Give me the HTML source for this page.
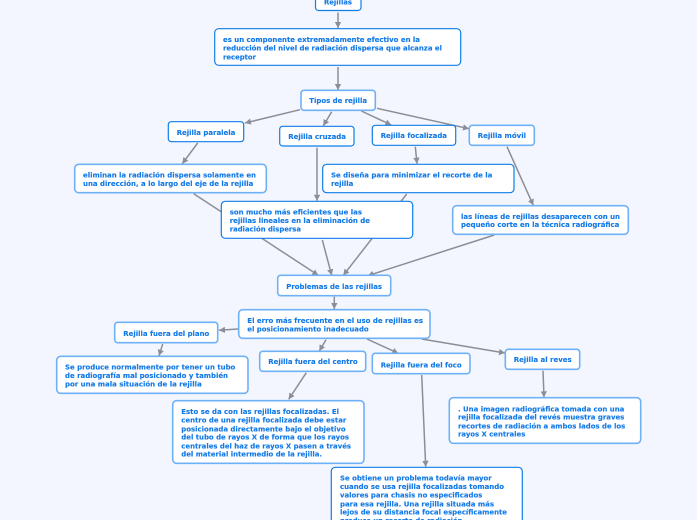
<!DOCTYPE html>
<html>
<head>
<meta charset="utf-8">
<style>
html,body{margin:0;padding:0;background:#f3f6ff;width:697px;height:520px;overflow:hidden}
svg{display:block;filter:blur(0.25px)}
text{font-family:"DejaVu Sans",sans-serif;font-weight:bold;font-size:7.4px;fill:#1279e6;stroke:#1279e6;stroke-width:0.12}
.c line{stroke:#8d8d95;stroke-width:1.5;marker-end:url(#a)}
rect{fill:#fff;stroke:#0f7ee8;stroke-width:1.2}
rect.l{stroke:#6fb1f6;stroke-width:1.6}
</style>
</head>
<body>
<svg width="697" height="520" viewBox="0 0 697 520" xmlns="http://www.w3.org/2000/svg">
<defs>
<marker id="a" markerUnits="userSpaceOnUse" markerWidth="8" markerHeight="8" refX="6" refY="3.2" orient="auto">
<path d="M0,0 L6,3.2 L0,6.4 Z" fill="#8d8d95"/>
</marker>
</defs>
<rect width="697" height="520" style="fill:#f3f6ff;stroke:none"/>
<g class="c">
<line x1="338" y1="12.5" x2="338" y2="28"/>
<line x1="338" y1="67" x2="338" y2="90"/>
<line x1="300" y1="109.7" x2="245" y2="123"/>
<line x1="331.7" y1="111.7" x2="323.3" y2="125.7"/>
<line x1="361.3" y1="111" x2="391.3" y2="125"/>
<line x1="377" y1="108.3" x2="469" y2="128.7"/>
<line x1="197.7" y1="143" x2="182.3" y2="163.7"/>
<line x1="317" y1="147.7" x2="317" y2="200.7"/>
<line x1="415.3" y1="146.7" x2="417" y2="163.7"/>
<line x1="507" y1="146.7" x2="533.3" y2="205.3"/>
<line x1="193.7" y1="193.7" x2="318.3" y2="275.3"/>
<line x1="322.3" y1="240" x2="331.7" y2="275.3"/>
<line x1="406.7" y1="194" x2="343.3" y2="275.3"/>
<line x1="494.3" y1="235" x2="367.7" y2="275.7"/>
<line x1="334.3" y1="296.7" x2="334.3" y2="309"/>
<line x1="238" y1="329" x2="219" y2="330.3"/>
<line x1="162.7" y1="344" x2="159" y2="355.7"/>
<line x1="326" y1="339.7" x2="319.3" y2="351"/>
<line x1="367" y1="339" x2="398.3" y2="353.3"/>
<line x1="421.7" y1="339" x2="505" y2="353"/>
<line x1="543" y1="370.7" x2="544" y2="397.3"/>
<line x1="306.3" y1="372.7" x2="288.7" y2="399.3"/>
<line x1="421.7" y1="375" x2="425.7" y2="466.7"/>
</g>

<rect x="315.5" y="-10" width="45.5" height="20.5" rx="3"/>
<rect x="214.7" y="28.7" width="246" height="36.6" rx="4"/>
<rect class="l" x="301" y="90.3" width="74.3" height="20" rx="3"/>
<rect x="168.3" y="121.7" width="75.4" height="20" rx="3"/>
<rect x="279.7" y="126.3" width="74.3" height="19.7" rx="3"/>
<rect x="372.3" y="125.3" width="83.4" height="20" rx="3"/>
<rect class="l" x="469.3" y="125.3" width="65" height="20" rx="3"/>
<rect class="l" x="74.7" y="164.3" width="191.6" height="28.4" rx="4"/>
<rect x="221.3" y="201.3" width="191.4" height="37" rx="4"/>
<rect x="322.7" y="164.3" width="191.3" height="28.4" rx="4"/>
<rect class="l" x="452.7" y="205.7" width="175.6" height="28.6" rx="4"/>
<rect class="l" x="277.7" y="275.3" width="113" height="20.4" rx="3"/>
<rect class="l" x="238.7" y="309.7" width="191.3" height="28.6" rx="4"/>
<rect class="l" x="114.7" y="322.3" width="103" height="20.4" rx="3"/>
<rect class="l" x="56.7" y="356.3" width="191.3" height="37" rx="4"/>
<rect class="l" x="259.7" y="351.3" width="106" height="20" rx="3"/>
<rect class="l" x="372.3" y="353.3" width="97.7" height="20.4" rx="3"/>
<rect class="l" x="505.3" y="349.3" width="74.4" height="20" rx="3"/>
<rect class="l" x="449.3" y="397.7" width="191.4" height="45.6" rx="4"/>
<rect class="l" x="172.7" y="400.7" width="191.3" height="62.6" rx="4"/>
<rect x="331.3" y="467.3" width="191" height="72" rx="4"/>

<text x="324" y="4.5" textLength="28" lengthAdjust="spacingAndGlyphs">Rejillas</text>

<text x="223" y="42" textLength="197" lengthAdjust="spacingAndGlyphs">es un componente extremadamente efectivo en la</text>
<text x="223" y="50.5" textLength="219" lengthAdjust="spacingAndGlyphs">reducción del nivel de radiación dispersa que alcanza el</text>
<text x="223" y="59.5" textLength="33" lengthAdjust="spacingAndGlyphs">receptor</text>

<text x="309.3" y="103" textLength="57.7" lengthAdjust="spacingAndGlyphs">Tipos de rejilla</text>
<text x="176.7" y="135" textLength="58.6" lengthAdjust="spacingAndGlyphs">Rejilla paralela</text>
<text x="288.3" y="139" textLength="57.7" lengthAdjust="spacingAndGlyphs">Rejilla cruzada</text>
<text x="380.7" y="138" textLength="66.3" lengthAdjust="spacingAndGlyphs">Rejilla focalizada</text>
<text x="477.7" y="138" textLength="48.3" lengthAdjust="spacingAndGlyphs">Rejilla móvil</text>

<text x="83" y="177.3" textLength="173" lengthAdjust="spacingAndGlyphs">eliminan la radiación dispersa solamente en</text>
<text x="83" y="186" textLength="170.3" lengthAdjust="spacingAndGlyphs">una dirección, a lo largo del eje de la rejilla</text>

<text x="331" y="177.3" textLength="161.3" lengthAdjust="spacingAndGlyphs">Se diseña para minimizar el recorte de la</text>
<text x="331" y="186" textLength="22.3" lengthAdjust="spacingAndGlyphs">rejilla</text>

<text x="229.7" y="214.5" textLength="132.3" lengthAdjust="spacingAndGlyphs">son mucho más eficientes que las</text>
<text x="229.7" y="223" textLength="140.3" lengthAdjust="spacingAndGlyphs">rejillas lineales en la eliminación de</text>
<text x="229.7" y="231.5" textLength="71.3" lengthAdjust="spacingAndGlyphs">radiación dispersa</text>

<text x="461" y="219" textLength="159" lengthAdjust="spacingAndGlyphs">las líneas de rejillas desaparecen con un</text>
<text x="461" y="227" textLength="158.3" lengthAdjust="spacingAndGlyphs">pequeño corte en la técnica radiográfica</text>

<text x="286.3" y="289" textLength="95.7" lengthAdjust="spacingAndGlyphs">Problemas de las rejillas</text>

<text x="247.3" y="323" textLength="175.7" lengthAdjust="spacingAndGlyphs">El erro más frecuente en el uso de rejillas es</text>
<text x="247.3" y="331.3" textLength="121.4" lengthAdjust="spacingAndGlyphs">el posicionamiento inadecuado</text>

<text x="123.3" y="336" textLength="86" lengthAdjust="spacingAndGlyphs">Rejilla fuera del plano</text>

<text x="65" y="369.3" textLength="170.3" lengthAdjust="spacingAndGlyphs">Se produce normalmente por tener un tubo</text>
<text x="65" y="378" textLength="163" lengthAdjust="spacingAndGlyphs">de radiografía mal posicionado y también</text>
<text x="65" y="386.3" textLength="136.7" lengthAdjust="spacingAndGlyphs">por una mala situación de la rejilla</text>

<text x="268.3" y="364" textLength="89.4" lengthAdjust="spacingAndGlyphs">Rejilla fuera del centro</text>
<text x="380.7" y="367.3" textLength="81" lengthAdjust="spacingAndGlyphs">Rejilla fuera del foco</text>
<text x="513.7" y="362" textLength="58" lengthAdjust="spacingAndGlyphs">Rejilla al reves</text>

<text x="458" y="411.3" textLength="166.3" lengthAdjust="spacingAndGlyphs">. Una imagen radiográfica tomada con una</text>
<text x="458" y="419.3" textLength="166.3" lengthAdjust="spacingAndGlyphs">rejilla focalizada del revés muestra graves</text>
<text x="458" y="428.3" textLength="167.3" lengthAdjust="spacingAndGlyphs">recortes de radiación a ambos lados de los</text>
<text x="458" y="436.3" textLength="67.3" lengthAdjust="spacingAndGlyphs">rayos X centrales</text>

<text x="181.3" y="414" textLength="157.7" lengthAdjust="spacingAndGlyphs">Esto se da con las rejillas focalizadas. El</text>
<text x="181.3" y="422.3" textLength="165" lengthAdjust="spacingAndGlyphs">centro de una rejilla focalizada debe estar</text>
<text x="181.3" y="431.3" textLength="164.4" lengthAdjust="spacingAndGlyphs">posicionada directamente bajo el objetivo</text>
<text x="181.3" y="439.7" textLength="167.7" lengthAdjust="spacingAndGlyphs">del tubo de rayos X de forma que los rayos</text>
<text x="181.3" y="448.3" textLength="169.7" lengthAdjust="spacingAndGlyphs">centrales del haz de rayos X pasen a través</text>
<text x="181.3" y="456.3" textLength="140.7" lengthAdjust="spacingAndGlyphs">del material intermedio de la rejilla.</text>

<text x="340" y="480.3" textLength="151.7" lengthAdjust="spacingAndGlyphs">Se obtiene un problema todavía mayor</text>
<text x="340" y="489" textLength="164" lengthAdjust="spacingAndGlyphs">cuando se usa rejilla focalizadas tomando</text>
<text x="340" y="497.3" textLength="142.3" lengthAdjust="spacingAndGlyphs">valores para chasis no especificados</text>
<text x="340" y="506.3" textLength="154" lengthAdjust="spacingAndGlyphs">para esa rejilla. Una rejilla situada más</text>
<text x="340" y="514.6" textLength="167" lengthAdjust="spacingAndGlyphs">lejos de su distancia focal específicamente</text>
<text x="340" y="523" textLength="125" lengthAdjust="spacingAndGlyphs">produce un recorte de radiación.</text>
</svg>
</body>
</html>
